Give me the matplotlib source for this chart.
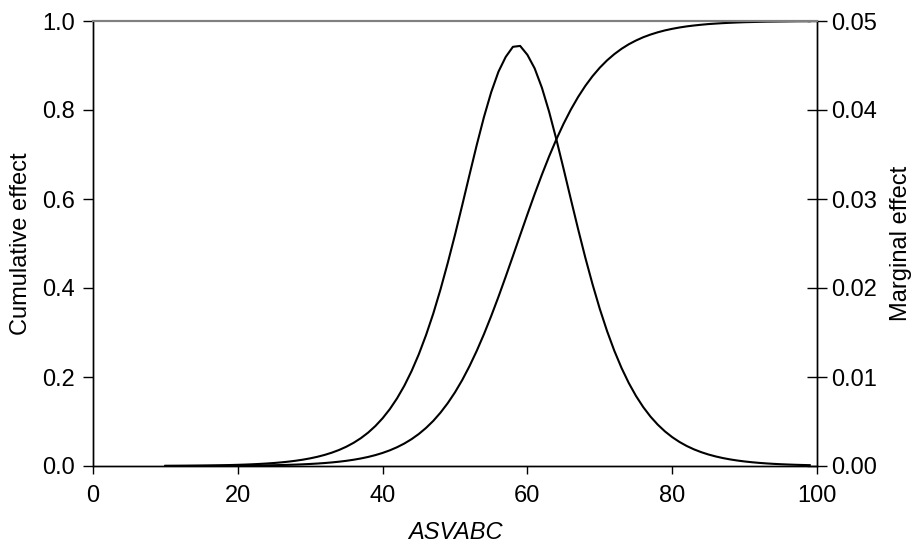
import matplotlib
matplotlib.use("Agg")
import matplotlib.pyplot as plt
import numpy as np

plt.rcParams['font.family'] = ['Liberation Sans', 'DejaVu Sans']

asvabc = list(range(10, 100))

cumulative = [
    0.000107, 0.000130, 0.000156, 0.000189, 0.000228, 0.000275, 0.000332, 0.000400, 0.000483, 0.000583,
    0.000704, 0.000849, 0.001025, 0.001236, 0.001492, 0.001800, 0.002171, 0.002619, 0.003160, 0.003810,
    0.004596, 0.005541, 0.006680, 0.008051, 0.009700, 0.01168, 0.01407, 0.01693, 0.02036, 0.02447,
    0.02938, 0.03524, 0.04223, 0.05052, 0.06034, 0.07193, 0.08555, 0.1014, 0.1200, 0.1413,
    0.1656, 0.1932, 0.2243, 0.2587, 0.2963, 0.3370, 0.3801, 0.4254, 0.4718, 0.5188,
    0.5654, 0.6110, 0.6546, 0.6958, 0.7341, 0.7692, 0.8009, 0.8292, 0.8542, 0.8761,
    0.8951, 0.9115, 0.9255, 0.9375, 0.9477, 0.9562, 0.9635, 0.9695, 0.9746, 0.9789,
    0.9824, 0.9854, 0.9879, 0.9899, 0.9916, 0.9931, 0.9942, 0.9952, 0.9960, 0.9967,
    0.9973, 0.9977, 0.9981, 0.9985, 0.9987, 0.9989, 0.9991, 0.9993, 0.9994, 0.9995,
]

marginal = [
    0.0000201, 0.0000244, 0.0000293, 0.0000355, 0.0000429, 0.0000517, 0.0000624, 0.0000752, 0.0000908, 0.0001095,
    0.0001322, 0.0001596, 0.0001925, 0.0002322, 0.0002801, 0.0003378, 0.0004073, 0.0004911, 0.0005922, 0.0007136,
    0.0008601, 0.001036, 0.001248, 0.001502, 0.001806, 0.002171, 0.002608, 0.003129, 0.003750, 0.004489,
    0.005363, 0.006394, 0.007606, 0.009017, 0.01066, 0.01255, 0.01471, 0.01713, 0.01985, 0.02282,
    0.02598, 0.02931, 0.03271, 0.03606, 0.03921, 0.04200, 0.04430, 0.04596, 0.04710, 0.04720,
    0.04620, 0.04468, 0.04251, 0.03980, 0.03670, 0.03338, 0.02998, 0.02663, 0.02341, 0.02041,
    0.01765, 0.01517, 0.01296, 0.01102, 0.009327, 0.007868, 0.006618, 0.005552, 0.004649, 0.003886,
    0.003243, 0.002704, 0.002251, 0.001872, 0.001557, 0.001294, 0.001075, 0.000892, 0.000741, 0.000615,
    0.000510, 0.000423, 0.000351, 0.000291, 0.000241, 0.000200, 0.000166, 0.000137, 0.000114, 0.0000942,
]

x_ticks = [0, 20, 40, 60, 80, 100]
left_ticks = [0.0, 0.2, 0.4, 0.6, 0.8, 1.0]
right_ticks = [0.00, 0.01, 0.02, 0.03, 0.04, 0.05]

fig = plt.figure(figsize=(9.11, 5.44), dpi=100)
ax = fig.add_axes([93/911, 1-466/544, (817-93)/911, (466-21)/544])
ax2 = ax.twinx()

ax.plot(asvabc, cumulative, color='black', lw=1.5)
ax2.plot(asvabc, marginal, color='black', lw=1.5)

ax.set_xlim(0, 100)
ax.set_ylim(0, 1.0)
ax2.set_ylim(0, 0.05)

fs = 17
ax.set_xticks(x_ticks)
ax.set_xticklabels([str(v) for v in x_ticks], fontsize=fs)
ax.set_yticks(left_ticks)
ax.set_yticklabels([f"{v:.1f}" for v in left_ticks], fontsize=fs)
ax2.set_yticks(right_ticks)
ax2.set_yticklabels([f"{v:.2f}" for v in right_ticks], fontsize=fs)

ax.tick_params(axis='x', direction='out', length=6, width=1, pad=8)
ax.tick_params(axis='y', direction='out', length=7, width=1, pad=6)
ax2.tick_params(axis='y', direction='inout', length=15, width=1, pad=3)

for a in (ax, ax2):
    a.spines['top'].set_color('#808080')
    a.spines['top'].set_linewidth(1.5)
    for s in ('left', 'right', 'bottom'):
        a.spines[s].set_linewidth(1.0)
        a.spines[s].set_color('black')

ax.set_xlabel('ASVABC', fontsize=fs, style='italic', labelpad=10)
ax.set_ylabel('Cumulative effect', fontsize=fs, labelpad=7)
ax2.set_ylabel('Marginal effect', fontsize=fs, labelpad=9)

fig.savefig('out.png', dpi=100)
